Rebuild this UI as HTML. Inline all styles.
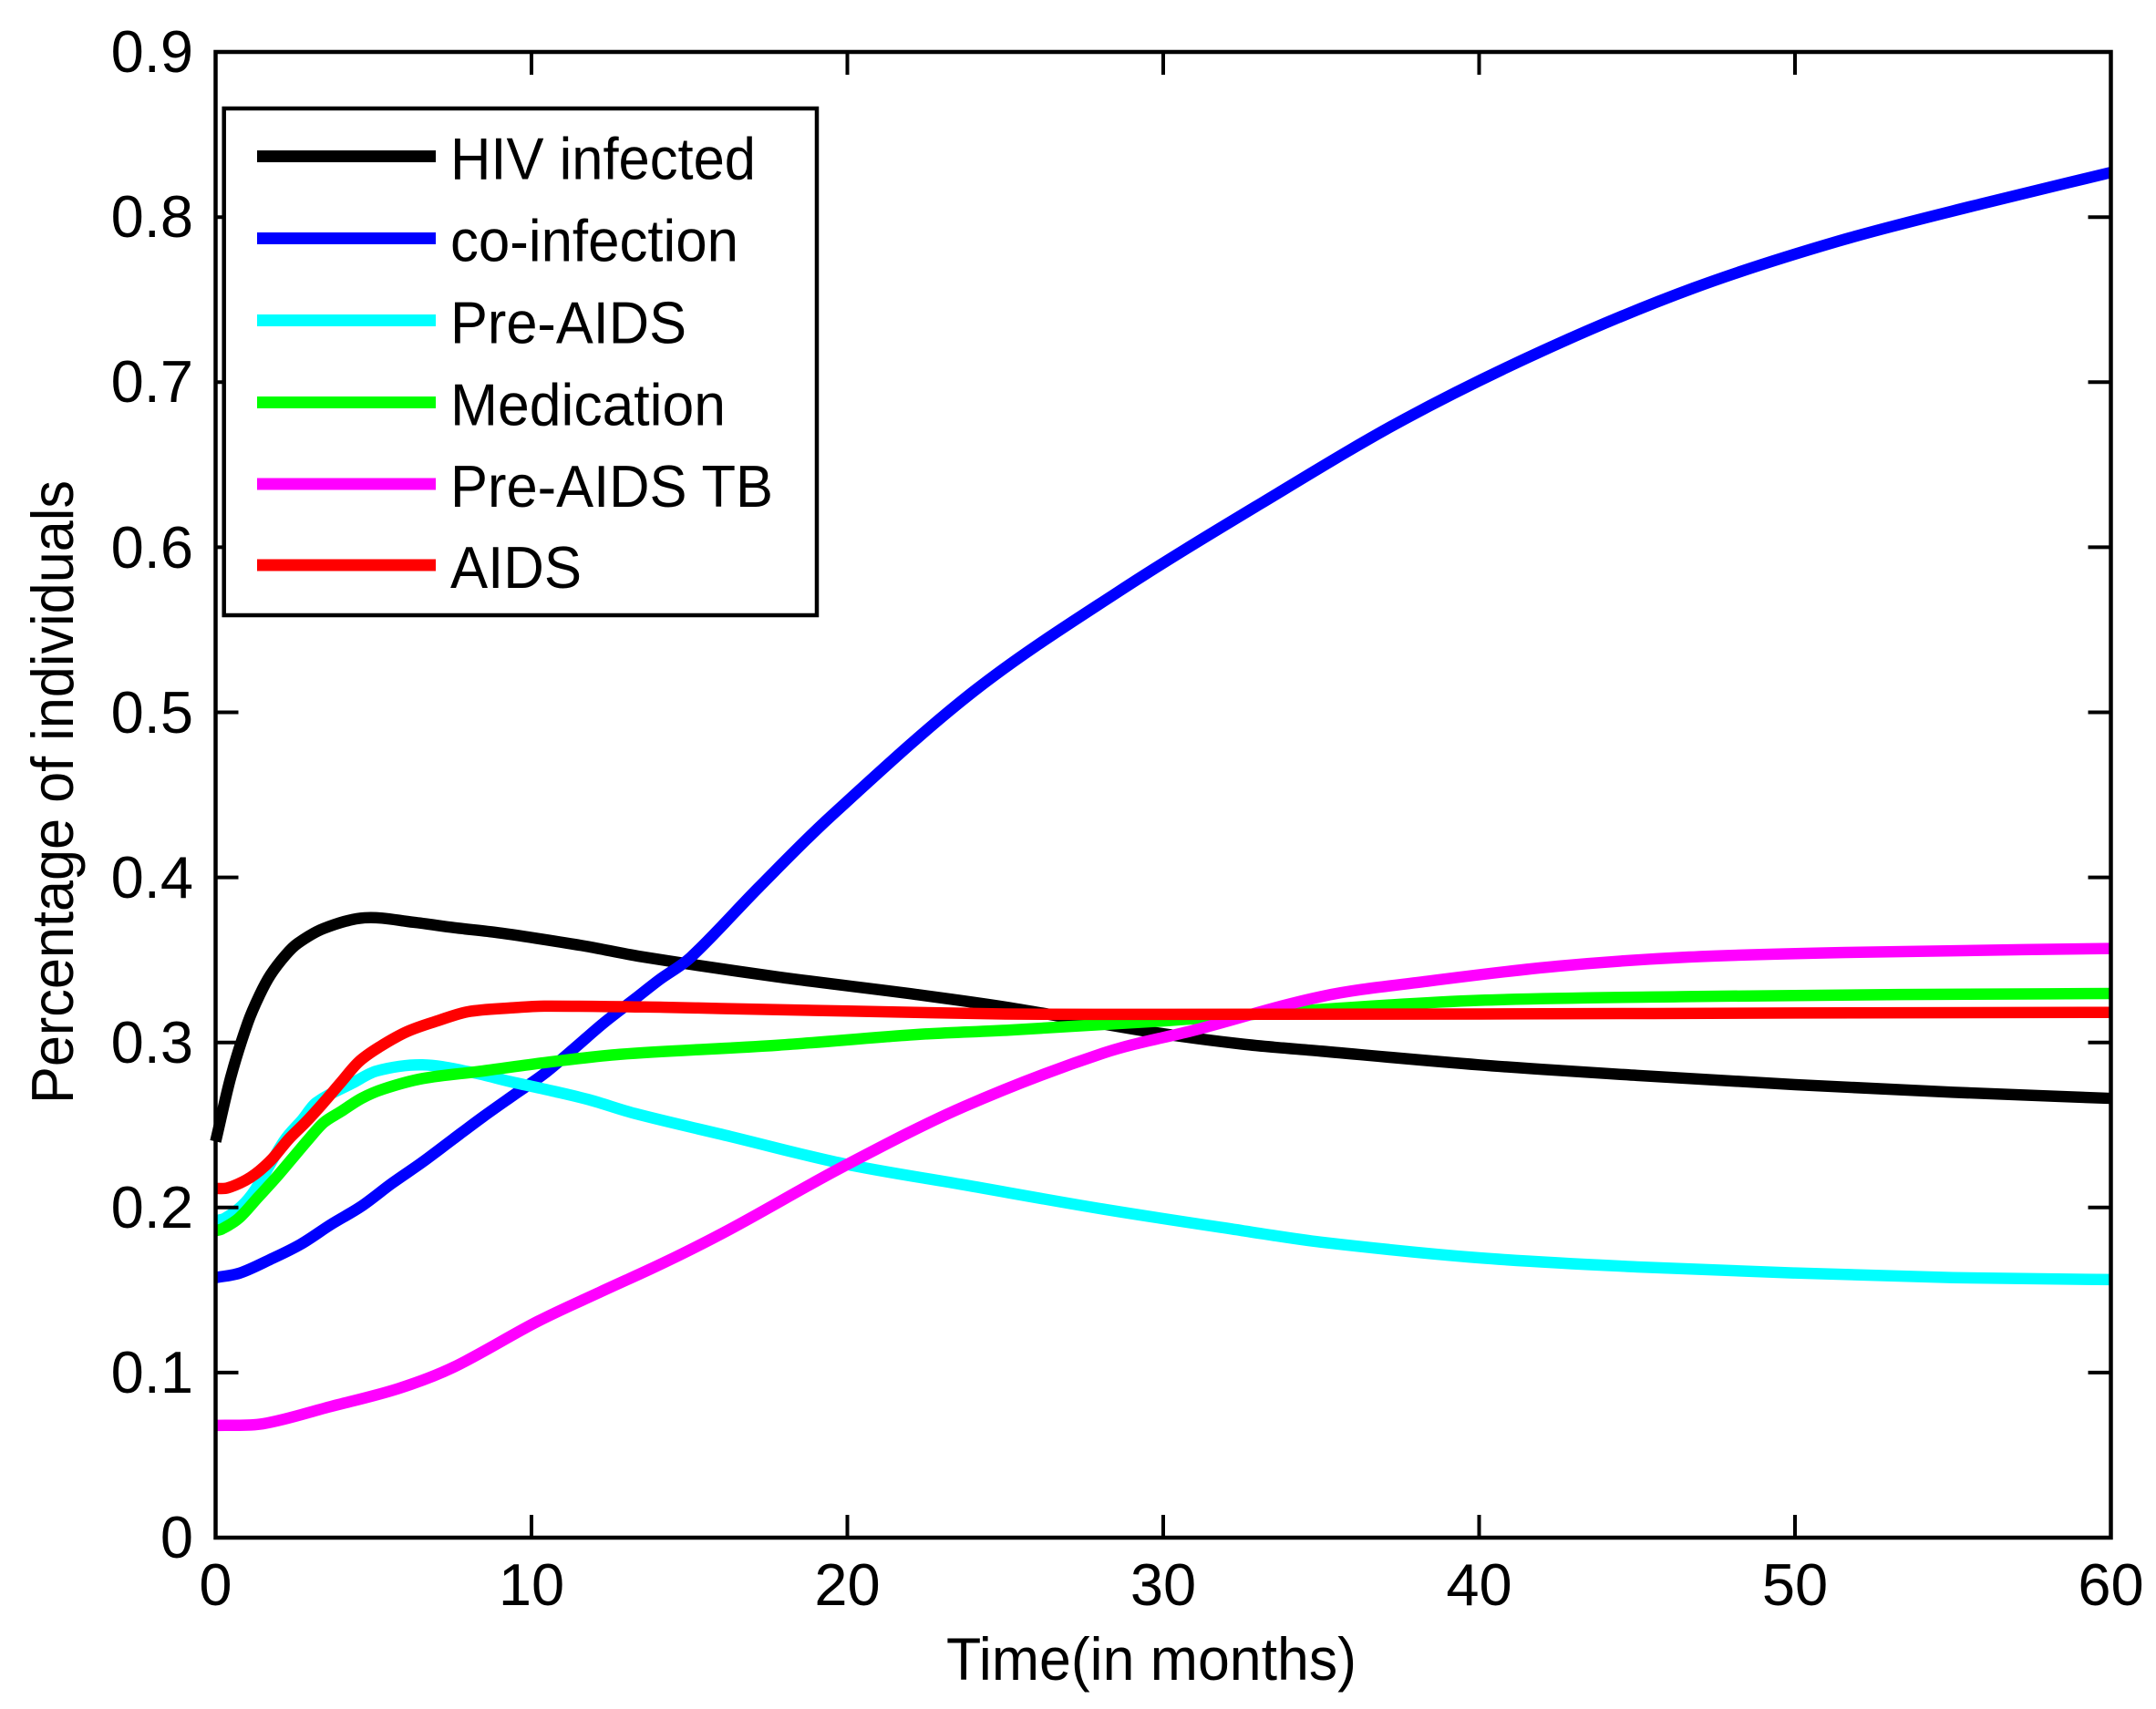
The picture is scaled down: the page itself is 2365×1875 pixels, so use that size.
<!DOCTYPE html>
<html>
<head>
<meta charset="utf-8">
<style>
  html, body { margin: 0; padding: 0; background: #ffffff; }
  svg { display: block; }
  text { font-family: "Liberation Sans", Arial, Helvetica, sans-serif; fill: #000; }
</style>
</head>
<body>
<svg id="chart" xmlns="http://www.w3.org/2000/svg" width="2365" height="1875" viewBox="0 0 2365 1875">
  <rect x="0" y="0" width="2365" height="1875" fill="#ffffff"/>

  <!-- Data series (t in months, v in fraction) -->
  <g id="data" transform="translate(236.5,1687) scale(34.65,-1811.1)" fill="none" stroke-linejoin="round" stroke-linecap="butt">
    <polyline class="s" vector-effect="non-scaling-stroke" stroke="#000000" stroke-width="12.5"
      points="0,0.240 0.48,0.279 1.02,0.312 1.4,0.329 1.74,0.341 2.22,0.353 2.6,0.360 3.42,0.369 4.72,0.3755 6.26,0.3728 7.56,0.3695 8.81,0.3668 10.15,0.3631 11.74,0.3582 13.43,0.3521 17.8,0.3397 22.2,0.3290 25.15,0.3210 29.57,0.3065 32.5,0.2990 35.0,0.2947 40,0.2864 45,0.2800 50,0.2744 55,0.2698 60,0.2661"/>
    <polyline class="s" vector-effect="non-scaling-stroke" stroke="#0000ff" stroke-width="12.5"
      points="0,0.1575 0.77,0.1603 1.74,0.1686 2.7,0.1778 3.66,0.1898 4.62,0.2008 5.58,0.2146 6.55,0.2275 7.51,0.2413 8.47,0.255 9.43,0.268 10.4,0.281 11.36,0.2965 12.3,0.312 13.28,0.3265 14.05,0.338 15.05,0.3517 17.2,0.394 19.45,0.4365 24.0,0.5127 28.57,0.5729 33.12,0.6268 37.68,0.6780 42.24,0.7210 46.79,0.7570 51.35,0.7853 55.9,0.808 60,0.827"/>
    <polyline class="s" vector-effect="non-scaling-stroke" stroke="#00ffff" stroke-width="12.5"
      points="0,0.192 0.29,0.1934 0.82,0.2008 1.26,0.211 2.17,0.2404 2.75,0.2533 3.18,0.2634 4.33,0.2753 5.1,0.2827 6.55,0.2864 8.13,0.2818 9.34,0.2762 10.64,0.2707 11.84,0.2652 13.28,0.2569 16.3,0.243 19.86,0.2266 23.7,0.2137 28.1,0.199 32.5,0.186 35.0,0.1790 40,0.1695 45,0.164 50,0.1603 55,0.1575 60,0.1563"/>
    <polyline class="s" vector-effect="non-scaling-stroke" stroke="#00ff00" stroke-width="12.5"
      points="0,0.186 0.2,0.187 0.73,0.1934 1.35,0.2063 1.88,0.2174 2.41,0.2293 2.94,0.2413 3.42,0.2514 3.95,0.2579 4.62,0.2661 5.3,0.2717 6.55,0.2781 8.47,0.2827 10.4,0.2877 12.8,0.2928 17.8,0.2983 22.2,0.3048 25.15,0.3075 30,0.313 35,0.320 40,0.3255 46.6,0.3278 53.3,0.329 60,0.3296"/>
    <polyline class="s" vector-effect="non-scaling-stroke" stroke="#ff00ff" stroke-width="12.5"
      points="0,0.068 1.5,0.069 3.62,0.0793 5.8,0.0904 7.54,0.1033 10.2,0.131 12.2,0.149 14.24,0.167 16.3,0.187 19.86,0.2247 23.68,0.2610 28.1,0.2935 31,0.3075 35,0.3278 38.34,0.337 42.5,0.3462 46.64,0.3517 51.6,0.3545 60,0.3569"/>
    <polyline class="s" vector-effect="non-scaling-stroke" stroke="#ff0000" stroke-width="12.5"
      points="0,0.2115 0.39,0.2119 1.11,0.2183 1.74,0.2284 2.31,0.2413 2.84,0.2514 3.37,0.2625 3.95,0.2754 4.53,0.2882 5.2,0.2974 6.07,0.3066 7.03,0.3131 7.99,0.3186 9.43,0.321 10.4,0.322 14.2,0.3213 16,0.3205 20,0.319 25,0.3172 30,0.317 40,0.3172 50,0.3178 60,0.3182"/>
  </g>

  <!-- Axes box -->
  <rect x="236.5" y="57" width="2079" height="1630" fill="none" stroke="#000" stroke-width="4.5"/>

  <!-- Ticks -->
  <g stroke="#000" stroke-width="4">
    <line x1="583" y1="1687" x2="583" y2="1662"/><line x1="583" y1="57" x2="583" y2="82"/>
    <line x1="929.5" y1="1687" x2="929.5" y2="1662"/><line x1="929.5" y1="57" x2="929.5" y2="82"/>
    <line x1="1276" y1="1687" x2="1276" y2="1662"/><line x1="1276" y1="57" x2="1276" y2="82"/>
    <line x1="1622.5" y1="1687" x2="1622.5" y2="1662"/><line x1="1622.5" y1="57" x2="1622.5" y2="82"/>
    <line x1="1969" y1="1687" x2="1969" y2="1662"/><line x1="1969" y1="57" x2="1969" y2="82"/>
    <line x1="236.5" y1="1505.9" x2="261.5" y2="1505.9"/><line x1="2315.5" y1="1505.9" x2="2290.5" y2="1505.9"/>
    <line x1="236.5" y1="1324.8" x2="261.5" y2="1324.8"/><line x1="2315.5" y1="1324.8" x2="2290.5" y2="1324.8"/>
    <line x1="236.5" y1="1143.7" x2="261.5" y2="1143.7"/><line x1="2315.5" y1="1143.7" x2="2290.5" y2="1143.7"/>
    <line x1="236.5" y1="962.6" x2="261.5" y2="962.6"/><line x1="2315.5" y1="962.6" x2="2290.5" y2="962.6"/>
    <line x1="236.5" y1="781.5" x2="261.5" y2="781.5"/><line x1="2315.5" y1="781.5" x2="2290.5" y2="781.5"/>
    <line x1="236.5" y1="600.4" x2="261.5" y2="600.4"/><line x1="2315.5" y1="600.4" x2="2290.5" y2="600.4"/>
    <line x1="236.5" y1="419.3" x2="261.5" y2="419.3"/><line x1="2315.5" y1="419.3" x2="2290.5" y2="419.3"/>
    <line x1="236.5" y1="238.2" x2="261.5" y2="238.2"/><line x1="2315.5" y1="238.2" x2="2290.5" y2="238.2"/>
  </g>

  <!-- Y tick labels -->
  <g font-size="65" text-anchor="end">
    <text x="212" y="1709">0</text>
    <text x="212" y="1528">0.1</text>
    <text x="212" y="1347">0.2</text>
    <text x="212" y="1166">0.3</text>
    <text x="212" y="985">0.4</text>
    <text x="212" y="804">0.5</text>
    <text x="212" y="623">0.6</text>
    <text x="212" y="441">0.7</text>
    <text x="212" y="260">0.8</text>
    <text x="212" y="79">0.9</text>
  </g>

  <!-- X tick labels -->
  <g font-size="65" text-anchor="middle">
    <text x="236.5" y="1761">0</text>
    <text x="583" y="1761">10</text>
    <text x="929.5" y="1761">20</text>
    <text x="1276" y="1761">30</text>
    <text x="1622.5" y="1761">40</text>
    <text x="1969" y="1761">50</text>
    <text x="2315.5" y="1761">60</text>
  </g>

  <!-- Axis titles -->
  <text x="1263" y="1843" font-size="66" text-anchor="middle" textLength="450" lengthAdjust="spacingAndGlyphs">Time(in months)</text>
  <text transform="translate(80,869) rotate(-90)" font-size="65" text-anchor="middle" textLength="684" lengthAdjust="spacingAndGlyphs">Percentage of individuals</text>

  <!-- Legend -->
  <rect x="245.7" y="119" width="650.3" height="556" fill="#ffffff" stroke="#000" stroke-width="4.5"/>
  <g stroke-width="13">
    <line x1="282" y1="171.5" x2="478" y2="171.5" stroke="#000000"/>
    <line x1="282" y1="261.5" x2="478" y2="261.5" stroke="#0000ff"/>
    <line x1="282" y1="351.5" x2="478" y2="351.5" stroke="#00ffff"/>
    <line x1="282" y1="441.5" x2="478" y2="441.5" stroke="#00ff00"/>
    <line x1="282" y1="531" x2="478" y2="531" stroke="#ff00ff"/>
    <line x1="282" y1="620" x2="478" y2="620" stroke="#ff0000"/>
  </g>
  <g font-size="65">
    <text x="494" y="196.5" textLength="335" lengthAdjust="spacingAndGlyphs">HIV infected</text>
    <text x="494" y="286.5" textLength="316" lengthAdjust="spacingAndGlyphs">co-infection</text>
    <text x="494" y="376.5" textLength="259" lengthAdjust="spacingAndGlyphs">Pre-AIDS</text>
    <text x="494" y="466.5" textLength="302" lengthAdjust="spacingAndGlyphs">Medication</text>
    <text x="494" y="556" textLength="354" lengthAdjust="spacingAndGlyphs">Pre-AIDS TB</text>
    <text x="494" y="645" textLength="144" lengthAdjust="spacingAndGlyphs">AIDS</text>
  </g>
</svg>
<script>
(function () {
  var NS = "http://www.w3.org/2000/svg";
  var lines = document.querySelectorAll("polyline.s");
  for (var k = 0; k < lines.length; k++) {
    var pl = lines[k];
    var raw = pl.getAttribute("points").trim().split(/\s+/);
    var P = raw.map(function (s) { var a = s.split(","); return [parseFloat(a[0]), parseFloat(a[1])]; });
    var n = P.length;
    var d = "M" + P[0][0] + "," + P[0][1];
    for (var i = 0; i < n - 1; i++) {
      var p0 = P[i === 0 ? 0 : i - 1], p1 = P[i], p2 = P[i + 1], p3 = P[i + 2 < n ? i + 2 : n - 1];
      var h = p2[0] - p1[0];
      var m1 = (p2[1] - p0[1]) / ((p2[0] - p0[0]) || 1);
      var m2 = (p3[1] - p1[1]) / ((p3[0] - p1[0]) || 1);
      var c1x = p1[0] + h / 3, c1y = p1[1] + m1 * h / 3;
      var c2x = p2[0] - h / 3, c2y = p2[1] - m2 * h / 3;
      d += " C" + c1x + "," + c1y + " " + c2x + "," + c2y + " " + p2[0] + "," + p2[1];
    }
    var path = document.createElementNS(NS, "path");
    path.setAttribute("d", d);
    path.setAttribute("vector-effect", "non-scaling-stroke");
    path.setAttribute("stroke", pl.getAttribute("stroke"));
    path.setAttribute("stroke-width", pl.getAttribute("stroke-width"));
    path.setAttribute("fill", "none");
    pl.parentNode.replaceChild(path, pl);
  }
})();
</script>
</body>
</html>
